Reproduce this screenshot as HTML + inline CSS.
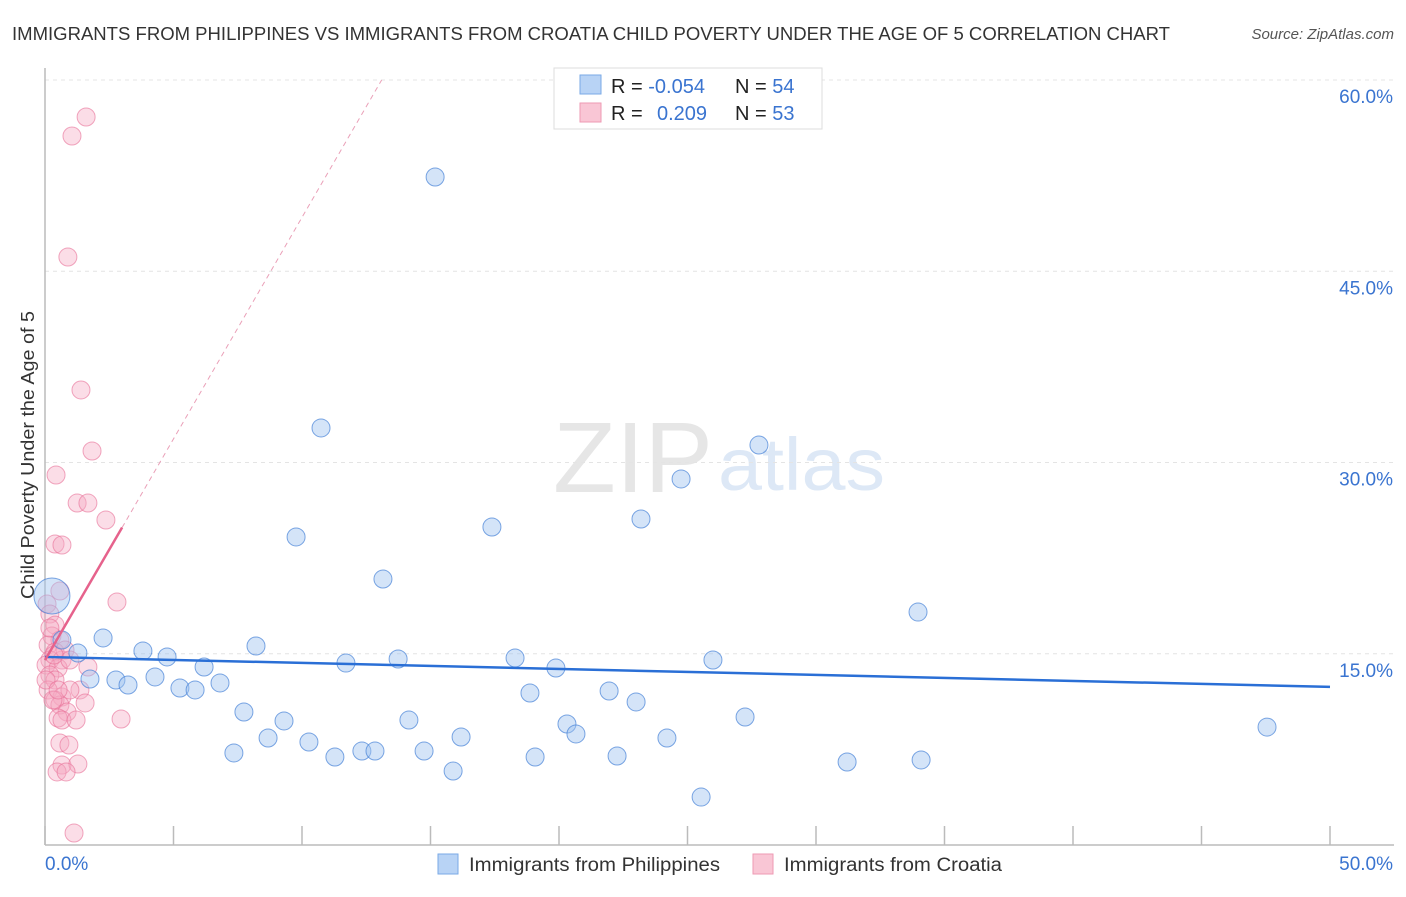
<!DOCTYPE html>
<html><head><meta charset="utf-8"><style>
body{margin:0;background:#fff;font-family:"Liberation Sans",sans-serif;}
svg text{font-family:"Liberation Sans",sans-serif;}
</style></head><body>
<svg id="chart" width="1406" height="892" xmlns="http://www.w3.org/2000/svg">
<text x="12" y="40" font-size="18" fill="#333" textLength="1158" lengthAdjust="spacingAndGlyphs">IMMIGRANTS FROM PHILIPPINES VS IMMIGRANTS FROM CROATIA CHILD POVERTY UNDER THE AGE OF 5 CORRELATION CHART</text>
<text x="1394" y="39" font-size="15" fill="#555" font-style="italic" text-anchor="end">Source: ZipAtlas.com</text>
<g>
<text x="553" y="492" font-size="100" fill="#e6e6e6" font-family="Liberation Serif, serif" textLength="160" lengthAdjust="spacingAndGlyphs">ZIP</text>
<text x="718" y="490" font-size="74" fill="#dde8f6" textLength="167" lengthAdjust="spacingAndGlyphs">atlas</text>
</g>
<g id="grid"></g>
<g id="axes"></g>
<g id="pts"></g>
<g id="trend"></g>
<g>
<rect x="554" y="68" width="268" height="61" fill="#fff" stroke="#ddd"/>
<rect x="580" y="75" width="21" height="19" fill="#b8d3f5" stroke="#7aa9e6"/>
<rect x="580" y="103" width="21" height="19" fill="#f9c6d5" stroke="#ee9ab3"/>
<text x="611" y="93" font-size="20" fill="#222">R = <tspan fill="#3a74d0">-0.054</tspan></text>
<text x="735" y="93" font-size="20" fill="#222">N = <tspan fill="#3a74d0">54</tspan></text>
<text x="611" y="120" font-size="20" fill="#222">R = <tspan fill="#3a74d0" x="657">0.209</tspan></text>
<text x="735" y="120" font-size="20" fill="#222">N = <tspan fill="#3a74d0">53</tspan></text>
</g>
<g>
<rect x="438" y="854" width="20" height="20" fill="#b8d3f5" stroke="#7aa9e6"/>
<text x="469" y="871" font-size="19" fill="#333" textLength="251" lengthAdjust="spacingAndGlyphs">Immigrants from Philippines</text>
<rect x="753" y="854" width="20" height="20" fill="#f9c6d5" stroke="#ee9ab3"/>
<text x="784" y="871" font-size="19" fill="#333" textLength="218" lengthAdjust="spacingAndGlyphs">Immigrants from Croatia</text>
</g>
<text transform="translate(34,455) rotate(-90)" font-size="18" fill="#333" text-anchor="middle" textLength="288" lengthAdjust="spacingAndGlyphs">Child Poverty Under the Age of 5</text>
</svg>
<script>
const blueX=[15.18,10.74,27.78,24.75,23.19,17.39,9.77,13.15,33.97,2.26,0.27,0.66,1.28,3.81,4.75,8.21,6.19,11.71,13.74,18.29,19.88,25.99,1.75,2.76,3.23,4.28,5.25,5.84,6.81,18.87,21.95,23.0,7.74,9.30,14.16,20.31,27.24,8.68,10.27,16.19,20.66,24.20,7.35,11.28,12.33,12.84,14.75,19.07,22.26,15.88,31.21,34.09,47.55,25.53];
const blueY=[52.39,32.71,31.37,28.71,25.57,24.94,24.16,20.86,18.27,16.24,19.53,16.08,15.06,15.22,14.75,15.61,13.96,14.27,14.59,14.67,13.88,14.51,13.02,12.94,12.55,13.18,12.31,12.16,12.71,11.92,12.08,11.22,10.43,9.73,9.80,9.49,10.04,8.39,8.08,8.47,8.71,8.39,7.22,6.90,7.37,7.37,7.37,6.90,6.98,5.80,6.51,6.67,9.25,3.76];
const pinkX=[1.60,1.05,0.89,1.40,1.83,0.43,1.25,1.67,2.37,0.39,0.66,2.80,0.58,0.08,0.19,0.39,0.27,0.58,0.12,0.39,0.19,0.66,0.04,0.51,1.67,0.19,0.39,0.12,1.36,0.66,0.39,0.97,0.58,1.56,0.86,0.51,0.66,1.21,2.96,0.58,0.93,0.66,1.28,0.47,0.82,1.13,0.19,0.78,0.31,0.04,0.97,0.51,0.35];
const pinkY=[57.10,55.61,46.12,35.69,30.90,29.02,26.82,26.82,25.49,23.61,23.53,19.06,19.92,18.90,18.12,17.25,16.39,16.08,15.69,15.14,14.51,14.51,14.12,13.88,13.96,13.33,12.94,12.16,12.16,11.61,11.37,12.16,10.98,11.14,10.43,9.96,9.80,9.80,9.88,8.00,7.84,6.27,6.35,5.73,5.73,0.94,17.02,15.29,11.37,12.94,14.51,12.16,14.90];
const yTicks=[15,30,45,60];
const yTickLabels=["15.0%","30.0%","45.0%","60.0%"];
const xTicks=[0,5,10,15,20,25,30,35,40,45,50];
const blueTrend=[[0,14.75],[50,12.4]];
const pinkTrend=[[0,14.5],[3.0,24.9]];
const pinkDash=[[3.0,24.9],[13.1,60]];

const NS="http://www.w3.org/2000/svg";
const sx=v=>45+v*25.7, sy=v=>845-v*12.75;
function mk(tag,attrs,parent){const e=document.createElementNS(NS,tag);for(const k in attrs)e.setAttribute(k,attrs[k]);parent.appendChild(e);return e;}
const grid=document.getElementById('grid'),axes=document.getElementById('axes'),pts=document.getElementById('pts'),trend=document.getElementById('trend');
yTicks.forEach((t,i)=>{
 const l=mk('line',{x1:45,x2:1394,y1:sy(t),y2:sy(t),stroke:'#e4e4e4','stroke-dasharray':'4,4'},grid);
 
 
 const tx=mk('text',{x:1393,y:sy(t)+23,'font-size':19,fill:'#3a74d0','text-anchor':'end'},axes);
 tx.textContent=yTickLabels[i];
 
 
});
const ax=mk('line',{x1:45,x2:45,y1:68,y2:845,stroke:'#bbb','stroke-width':1.5},axes);


const bx=mk('line',{x1:45,x2:1394,y1:845,y2:845,stroke:'#bbb','stroke-width':1.5},axes);


xTicks.forEach(t=>{
 const l=mk('line',{x1:sx(t),x2:sx(t),y1:826,y2:845,stroke:'#bbb','stroke-width':1.5},axes);
 
 
});
const x0=mk('text',{x:45,y:870,'font-size':19,fill:'#3a74d0'},axes);x0.textContent='0.0%';


const x1=mk('text',{x:1393,y:870,'font-size':19,fill:'#3a74d0','text-anchor':'end'},axes);x1.textContent='50.0%';


pinkX.forEach((x,i)=>{
 const c=mk('circle',{cx:sx(x),cy:sy(pinkY[i]),r:9,fill:'rgba(246,170,195,0.4)',stroke:'rgba(232,110,150,0.6)','stroke-width':1},pts);
 
 
});
blueX.forEach((x,i)=>{
 const c=mk('circle',{cx:sx(x),cy:sy(blueY[i]),r:(i===10?18:9),fill:'rgba(160,195,240,0.45)',stroke:'rgba(70,130,215,0.7)','stroke-width':1},pts);
 
 
});
const bt=mk('line',{x1:sx(blueTrend[0][0]),y1:sy(blueTrend[0][1]),x2:sx(blueTrend[1][0]),y2:sy(blueTrend[1][1]),stroke:'#2a6fd6','stroke-width':2.5},trend);


const pt=mk('line',{x1:sx(pinkTrend[0][0]),y1:sy(pinkTrend[0][1]),x2:sx(pinkTrend[1][0]),y2:sy(pinkTrend[1][1]),stroke:'#e6628c','stroke-width':2.5},trend);


const pd=mk('line',{x1:sx(pinkDash[0][0]),y1:sy(pinkDash[0][1]),x2:sx(pinkDash[1][0]),y2:sy(pinkDash[1][1]),stroke:'#eaa0b8','stroke-width':1,'stroke-dasharray':'5,4'},trend);


</script>
</body></html>
